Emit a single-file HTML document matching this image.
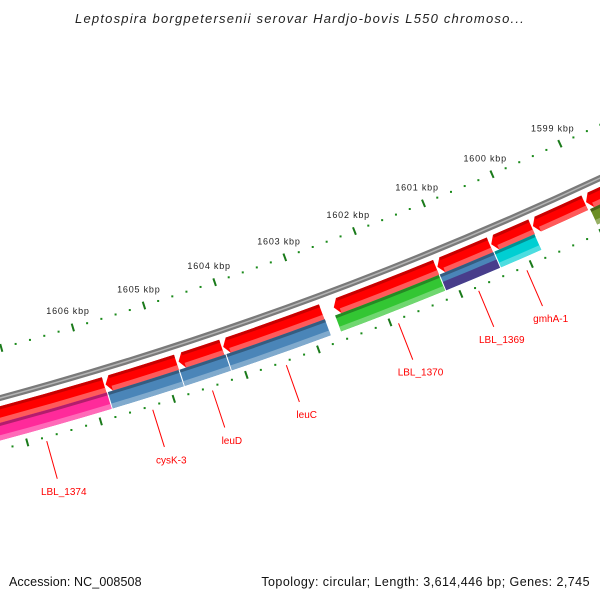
<!DOCTYPE html>
<html><head><meta charset="utf-8"><style>
html,body{margin:0;padding:0;background:#fff;}
svg{display:block;font-family:"Liberation Sans",sans-serif;}
</style></head><body>
<svg id="chart" width="600" height="600" viewBox="0 0 600 600" xmlns="http://www.w3.org/2000/svg">
<text x="300" y="23" text-anchor="middle" font-size="13" font-style="italic" letter-spacing="1.2" fill="#222">Leptospira borgpetersenii serovar Hardjo-bovis L550 chromoso...</text>
<g id="layer"></g>
<text x="9" y="586" font-size="12.5" letter-spacing="0.1" fill="#111">Accession: NC_008508</text>
<text x="590" y="586" text-anchor="end" font-size="12.5" letter-spacing="0.45" fill="#111">Topology: circular; Length: 3,614,446 bp; Genes: 2,745</text>
</svg>
<script>
const fwdStart=[1607.9,1605.80,1604.79,1604.17,1602.62,1601.15,1600.38,1599.78,1599.01];
const fwdEnd=[1605.82,1604.82,1604.19,1602.79,1601.17,1600.40,1599.80,1599.03,1597.5];
const revStart=[1607.7,1605.80,1604.81,1604.16,1602.64,1601.16,1600.38,1599.0];
const revEnd=[1605.80,1604.81,1604.16,1602.77,1601.16,1600.38,1599.79,1597.5];
const revNames=['LBL_1374','cysK-3','leuD','leuC','LBL_1370','LBL_1369','gmhA-1',''];
const revColors=['#ff2a9a','#4a85b8','#4a85b8','#4a85b8','#33c633','#4a85b8','#00cfd2','#6b8e23'];
const tickLabels=[1599,1600,1601,1602,1603,1604,1605,1606];

const CX=-956, CY=-3137;
const NS='http://www.w3.org/2000/svg';
const layer=document.getElementById('layer');
function ang(k){return (66.38+(k-1600)*1.18)*Math.PI/180;}
function pt(r,k){const a=ang(k);return [CX+r*Math.cos(a),CY+r*Math.sin(a)];}
function mk(tag,attrs){const e=document.createElementNS(NS,tag);for(const k in attrs)e.setAttribute(k,attrs[k]);layer.appendChild(e);return e;}
function band(r1,r2,k1,k2,fill,tip){
  const a=pt(r1,k2),b=pt(r2,k2);
  let d='M'+a[0]+','+a[1];
  if(tip){
    const kb=k1-0.07;
    const c=pt(r1,kb),m=pt((r1+r2)/2,k1),e=pt(r2,kb);
    d+=' A'+r1+','+r1+' 0 0 1 '+c[0]+','+c[1]+' L'+m[0]+','+m[1]+' L'+e[0]+','+e[1]+' A'+r2+','+r2+' 0 0 0 '+b[0]+','+b[1]+'Z';
  } else {
    const c=pt(r1,k1),e=pt(r2,k1);
    d+=' A'+r1+','+r1+' 0 0 1 '+c[0]+','+c[1]+' L'+e[0]+','+e[1]+' A'+r2+','+r2+' 0 0 0 '+b[0]+','+b[1]+'Z';
  }
  return mk('path',{d:d,fill:fill});
}
function shade(hex,f){const n=parseInt(hex.slice(1),16);let r=n>>16,g=(n>>8)&255,b=n&255;
  if(f<0){r*=1+f;g*=1+f;b*=1+f;}else{r+=(255-r)*f;g+=(255-g)*f;b+=(255-b)*f;}
  return 'rgb('+Math.round(r)+','+Math.round(g)+','+Math.round(b)+')';}

let bb=mk('circle',{cx:CX,cy:CY,r:3662,fill:'none',stroke:'#7a7a7a','stroke-width':6});


mk('circle',{cx:CX,cy:CY,r:3662,fill:'none',stroke:'#b4b4b4','stroke-width':1.5});

for(let i=0;i<=60;i++){
  const k=1597+i*0.2;
  const major=i%5===0;
  [3614,3712].forEach((R)=>{
    if(major){
      const p1=pt(R-4,k),p2=pt(R+4,k);
      const t=mk('line',{x1:p1[0],y1:p1[1],x2:p2[0],y2:p2[1],stroke:'#1a7a1a','stroke-width':2});
      
      
    } else {
      const p=pt(R,k);
      const t=mk('rect',{x:p[0]-1,y:p[1]-1,width:2,height:2,fill:'#1a8a1a'});
      
      
    }
  });
}
tickLabels.forEach(k=>{
  const p=pt(3597,k);
  const t=mk('text',{x:p[0],y:p[1]+3,'text-anchor':'middle','font-size':'9','letter-spacing':'0.8',fill:'#222'});
  t.textContent=k+' kbp';
  
  
});

for(let i=0;i<fwdStart.length;i++){
  const g=band(3670,3686,fwdStart[i],fwdEnd[i],'#ff0000',true);
  
  
  band(3670,3673,fwdStart[i]-0.07,fwdEnd[i],'#c80000',false);
  band(3681,3686,fwdStart[i]-0.07,fwdEnd[i],'#ff5a5a',false);
}
for(let i=0;i<revStart.length;i++){
  const col=revColors[i];
  const g=band(3686,3703,revStart[i],revEnd[i]+0.015,col,false);
  
  
  band(3686,3689,revStart[i],revEnd[i]+0.015,shade(col,-0.3),false);
  if(revNames[i]==='LBL_1369'){band(3694,3703,revStart[i],revEnd[i]+0.015,'#483d8b',false);}
  else band(3698,3703,revStart[i],revEnd[i]+0.015,shade(col,0.3),false);
  if(revNames[i]){
    const km=(revStart[i]+revEnd[i])/2;
    const p1=pt(3716,km),p2=pt(3755,km),pl=pt(3768,km);
    const l=mk('line',{x1:p1[0],y1:p1[1],x2:p2[0],y2:p2[1],stroke:'#ff0000','stroke-width':1});
    
    
    const t=mk('text',{x:pl[0]+3,y:pl[1]+4,'text-anchor':'middle','font-size':'10',fill:'#ff0000'});
    t.textContent=revNames[i];
    
    
  }
}
</script>
</body></html>
